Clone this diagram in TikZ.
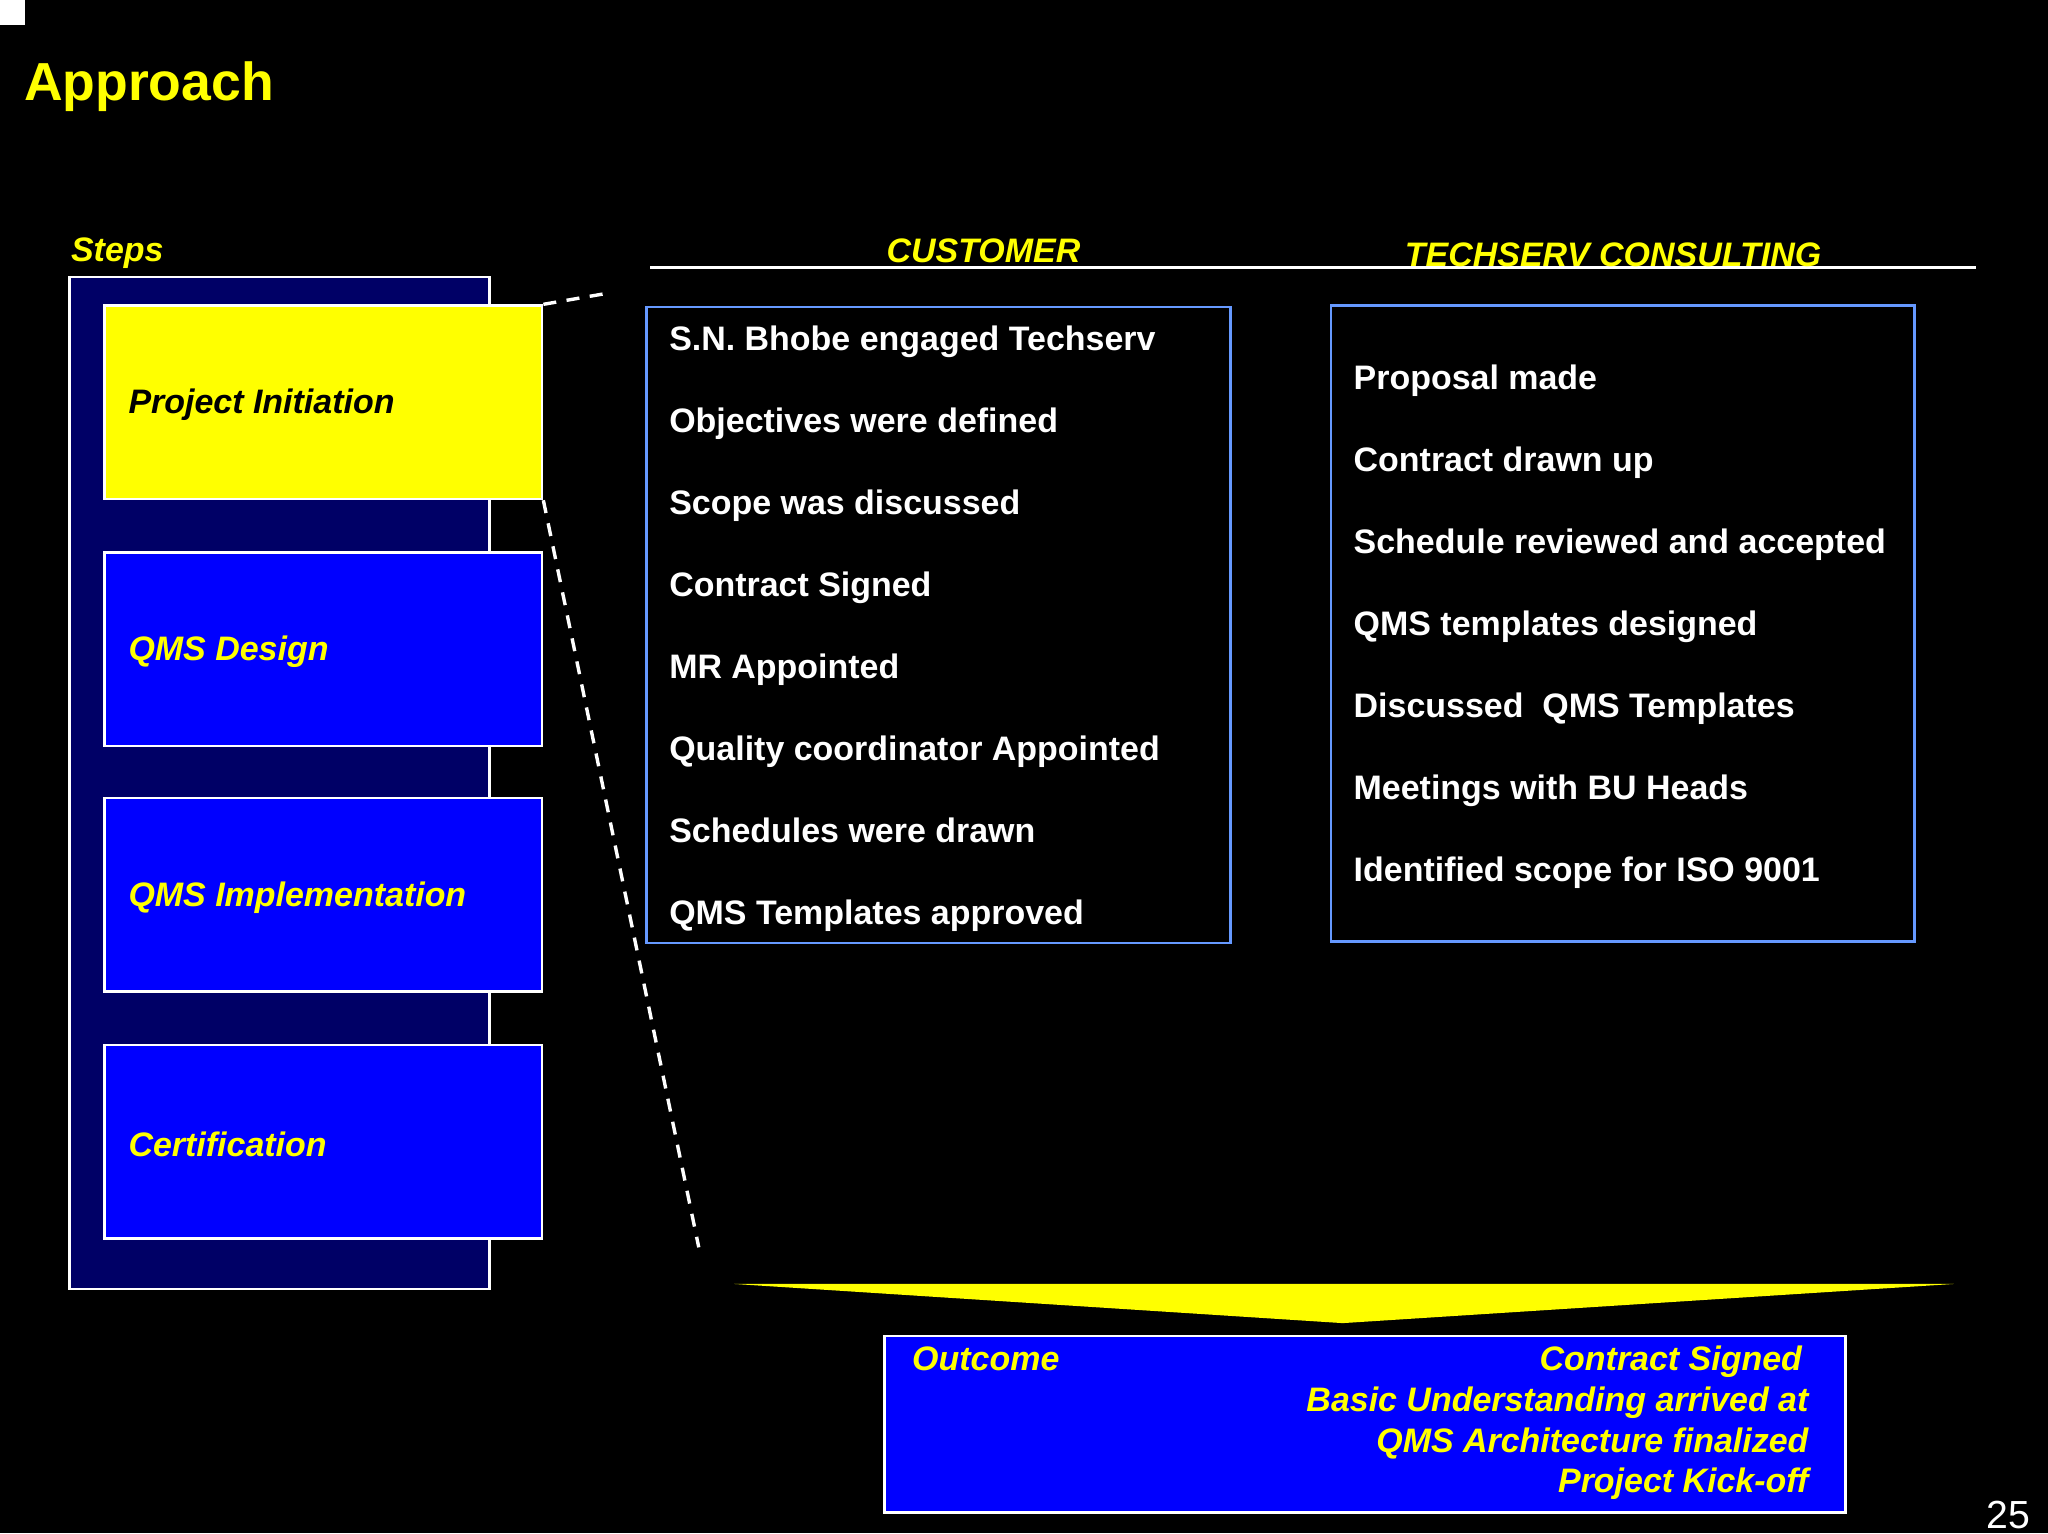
\documentclass[tikz,border=0pt]{standalone}
\usepackage{fontspec}
\setmainfont{Liberation Sans}
\definecolor{navy}{RGB}{0,0,102}
\definecolor{pureblue}{RGB}{0,0,255}
\definecolor{pureyellow}{RGB}{255,255,0}
\definecolor{frameblue}{RGB}{102,153,255}
\tikzset{
  stepbox/.style={draw=white, line width=1pt, fill=pureblue, anchor=north west, minimum width=335*0.5pt, minimum height=148*0.5pt, inner sep=0pt},
  steplabel/.style={anchor=west, inner sep=0pt, font=\fontsize{13}{15}\selectfont\bfseries\itshape, text=pureyellow},
  item/.style={anchor=base west, inner sep=0pt, font=\fontsize{13}{15}\selectfont\bfseries, text=white},
  outitem/.style={anchor=base east, inner sep=0pt, font=\fontsize{13}{15}\selectfont\bfseries\itshape, text=pureyellow},
  head/.style={anchor=base, inner sep=0pt, font=\fontsize{13}{15}\selectfont\bfseries\itshape, text=pureyellow},
  listbox/.style={draw=frameblue, line width=1pt, anchor=north west, minimum width=447*0.5pt, minimum height=487*0.5pt, inner sep=0pt},
  zoomline/.style={draw=white, line width=1.3pt, dash pattern=on 5pt off 4pt}
}
\begin{document}
\begin{tikzpicture}[x=0.5pt,y=-0.5pt]
\useasboundingbox (0,0) rectangle (1568,1174);
\fill[black] (0,0) rectangle (1568,1174);
\fill[white] (0,0) rectangle (19,19);
\node[anchor=base west, inner sep=0pt, font=\fontsize{20.5}{24}\selectfont\bfseries, text=pureyellow] (title) at (18,77) {Approach};
\node[anchor=base west, inner sep=0pt, font=\fontsize{13}{15}\selectfont\bfseries\itshape, text=pureyellow] (steps) at (54,200) {Steps};
% outer steps frame
\node[draw=white, line width=1pt, fill=navy, anchor=north west, minimum width=322*0.5pt, minimum height=775*0.5pt, inner sep=0pt] (frame) at (52,211) {};
% step boxes
\node[stepbox, fill=pureyellow] (s1) at (79,233) {};
\node[stepbox] (s2) at (79,422) {};
\node[stepbox] (s3) at (79,610) {};
\node[stepbox] (s4) at (79,799) {};
\node[steplabel, text=black] (l1) at (98,310) {Project Initiation};
\node[steplabel] (l2) at (98,499) {QMS Design};
\node[steplabel] (l3) at (98,687) {QMS Implementation};
\node[steplabel] (l4) at (98,876) {Certification};
% zoom lines
\coordinate (zt) at (468,224);
\coordinate (zb) at (535,955);
\draw[zoomline] (s1.north east) -- (zt);
\draw[zoomline] (s1.south east) -- (zb);
% headers
\coordinate (hl) at (498,205);
\coordinate (hr) at (1513,205);
\draw[white, line width=1pt] (hl) -- (hr);
\node[head] (hc) at (753,201) {CUSTOMER};
\node[head] (ht) at (1235,204) {TECHSERV CONSULTING};
% list boxes
\node[listbox] (cb) at (494,234) {};
\node[listbox] (tb) at (1018,233) {};
\foreach \t [count=\i] in {S.N. Bhobe engaged Techserv, Objectives were defined, Scope was discussed, Contract Signed, MR Appointed, Quality coordinator Appointed, Schedules were drawn, QMS Templates approved}
  \node[item] (c\i) at (512,{268+(\i-1)*62.8}) {\t};
\foreach \t [count=\i] in {Proposal made, Contract drawn up, Schedule reviewed and accepted, QMS templates designed, {Discussed\ \ QMS Templates}, Meetings with BU Heads, Identified scope for ISO 9001}
  \node[item] (t\i) at (1036,{298+(\i-1)*62.8}) {\t};
% funnel
\fill[pureyellow] (562,983) -- (1496,983) -- (1028,1013) -- cycle;
% outcome
\node[draw=white, line width=1pt, fill=pureblue, anchor=north west, minimum width=736*0.5pt, minimum height=135*0.5pt, inner sep=0pt] (ob) at (676,1022) {};
\node[anchor=base west, inner sep=0pt, font=\fontsize{13}{15}\selectfont\bfseries\itshape, text=pureyellow] (oc) at (698,1049) {Outcome};
\node[outitem] (o1) at (1380,1049) {Contract Signed};
\node[outitem] (o2) at (1385,1081) {Basic Understanding arrived at};
\node[outitem] (o3) at (1385,1112) {QMS Architecture finalized};
\node[outitem] (o4) at (1385,1143) {Project Kick-off};
\node[anchor=base east, inner sep=0pt, font=\fontsize{15}{18}\selectfont, text=white] (pg) at (1555,1170) {25};
\end{tikzpicture}
\end{document}
